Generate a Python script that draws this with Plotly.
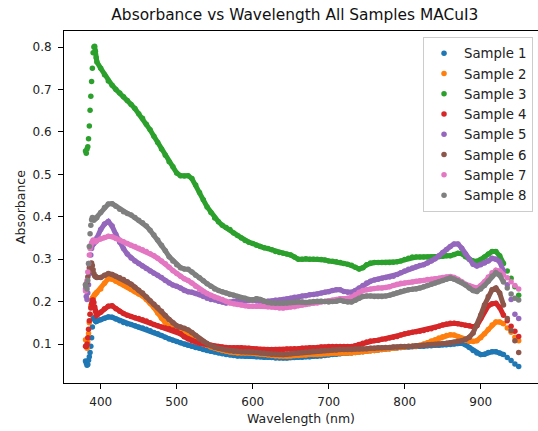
import plotly.graph_objects as go

# Wavelength grid (nm): 1 nm steps at the steep onset, 5 nm steps afterwards
WL = list(range(380, 396)) + list(range(400, 951, 5))

S1 = [0.060, 0.055, 0.050, 0.052, 0.062, 0.070, 0.080, 0.095, 0.115, 0.140, 0.160, 0.162, 0.158, 0.154, 0.153, 0.154,
      0.157, 0.161, 0.164, 0.163, 0.159, 0.155, 0.151, 0.148, 0.146, 0.143,
      0.140, 0.138, 0.135, 0.131, 0.127, 0.124, 0.120, 0.116, 0.112, 0.109,
      0.106, 0.103, 0.100, 0.097, 0.095, 0.092, 0.090, 0.087, 0.085, 0.083,
      0.081, 0.079, 0.077, 0.075, 0.074, 0.073, 0.072, 0.072, 0.071, 0.071,
      0.071, 0.070, 0.070, 0.069, 0.069, 0.068, 0.067, 0.067, 0.067, 0.067,
      0.068, 0.068, 0.069, 0.069, 0.070, 0.070, 0.071, 0.071, 0.072, 0.073,
      0.074, 0.075, 0.076, 0.077, 0.078, 0.078, 0.079, 0.080, 0.081, 0.082,
      0.083, 0.084, 0.085, 0.086, 0.087, 0.088, 0.089, 0.090, 0.091, 0.092,
      0.093, 0.093, 0.094, 0.094, 0.095, 0.095, 0.096, 0.096, 0.097, 0.097,
      0.098, 0.098, 0.099, 0.100, 0.101, 0.102, 0.098, 0.092, 0.085, 0.079,
      0.075, 0.076, 0.080, 0.082, 0.082, 0.079, 0.075, 0.068, 0.061, 0.053,
      0.047]

S2 = [0.110, 0.095, 0.090, 0.105, 0.125, 0.150, 0.170, 0.190, 0.204, 0.208, 0.210, 0.213, 0.216, 0.218, 0.220, 0.222,
      0.230, 0.243, 0.254, 0.253, 0.248, 0.244, 0.240, 0.235, 0.229, 0.223,
      0.218, 0.213, 0.205, 0.196, 0.186, 0.173, 0.161, 0.150, 0.142, 0.138,
      0.135, 0.132, 0.129, 0.124, 0.119, 0.112, 0.106, 0.100, 0.097, 0.093,
      0.090, 0.087, 0.085, 0.083, 0.081, 0.080, 0.079, 0.079, 0.079, 0.079,
      0.078, 0.077, 0.076, 0.075, 0.074, 0.073, 0.072, 0.071, 0.071, 0.071,
      0.072, 0.073, 0.073, 0.074, 0.074, 0.075, 0.075, 0.075, 0.076, 0.077,
      0.077, 0.078, 0.078, 0.079, 0.079, 0.079, 0.079, 0.080, 0.081, 0.082,
      0.083, 0.084, 0.085, 0.086, 0.087, 0.088, 0.089, 0.090, 0.091, 0.092,
      0.093, 0.094, 0.094, 0.095, 0.097, 0.100, 0.103, 0.107, 0.110, 0.114,
      0.117, 0.120, 0.122, 0.121, 0.118, 0.113, 0.109, 0.106, 0.106, 0.108,
      0.115, 0.124, 0.134, 0.145, 0.152, 0.152, 0.148, 0.138, 0.128, 0.116,
      0.108]

S3 = [0.555, 0.550, 0.560, 0.565, 0.584, 0.614, 0.651, 0.684, 0.719, 0.750, 0.787, 0.800, 0.802, 0.790, 0.775, 0.765,
      0.750, 0.735, 0.720, 0.710, 0.700, 0.692, 0.683, 0.674, 0.665, 0.655,
      0.643, 0.632, 0.618, 0.605, 0.590, 0.575, 0.560, 0.545, 0.530, 0.518,
      0.503, 0.497, 0.496, 0.497, 0.490, 0.475, 0.457, 0.440, 0.423, 0.410,
      0.397, 0.388, 0.380, 0.375, 0.370, 0.362, 0.356, 0.350, 0.344, 0.340,
      0.337, 0.333, 0.330, 0.327, 0.325, 0.322, 0.318, 0.316, 0.314, 0.312,
      0.310, 0.305, 0.300, 0.300, 0.301, 0.300, 0.300, 0.300, 0.299, 0.298,
      0.296, 0.295, 0.294, 0.292, 0.290, 0.288, 0.286, 0.281, 0.277, 0.280,
      0.287, 0.291, 0.292, 0.292, 0.292, 0.292, 0.292, 0.293, 0.294, 0.296,
      0.299, 0.302, 0.305, 0.305, 0.305, 0.305, 0.305, 0.305, 0.305, 0.306,
      0.307, 0.308, 0.308, 0.311, 0.314, 0.313, 0.306, 0.300, 0.296, 0.295,
      0.299, 0.305, 0.312, 0.318, 0.318, 0.308, 0.290, 0.272, 0.255, 0.235,
      0.215]

S4 = [0.095, 0.094, 0.100, 0.115, 0.135, 0.155, 0.170, 0.185, 0.195, 0.203, 0.204, 0.198, 0.188, 0.178, 0.171, 0.168,
      0.175, 0.183, 0.189, 0.190, 0.183, 0.177, 0.172, 0.168, 0.165, 0.162,
      0.160, 0.157, 0.154, 0.150, 0.146, 0.143, 0.140, 0.138, 0.136, 0.133,
      0.130, 0.124, 0.117, 0.112, 0.108, 0.105, 0.102, 0.100, 0.098, 0.097,
      0.095, 0.094, 0.093, 0.092, 0.091, 0.091, 0.091, 0.091, 0.090, 0.090,
      0.089, 0.088, 0.087, 0.087, 0.087, 0.087, 0.087, 0.087, 0.087, 0.088,
      0.088, 0.089, 0.089, 0.090, 0.090, 0.091, 0.091, 0.092, 0.093, 0.093,
      0.094, 0.094, 0.094, 0.094, 0.094, 0.094, 0.094, 0.096, 0.099, 0.102,
      0.105, 0.107, 0.108, 0.109, 0.111, 0.112, 0.114, 0.116, 0.118, 0.121,
      0.124, 0.126, 0.128, 0.129, 0.130, 0.132, 0.134, 0.136, 0.139, 0.142,
      0.145, 0.147, 0.149, 0.149, 0.148, 0.146, 0.144, 0.143, 0.141, 0.143,
      0.160, 0.178, 0.190, 0.195, 0.196, 0.186, 0.168, 0.155, 0.142, 0.130,
      0.118]

S5 = [0.230, 0.212, 0.205, 0.220, 0.240, 0.265, 0.290, 0.310, 0.325, 0.332, 0.335, 0.337, 0.340, 0.342, 0.345, 0.350,
      0.370, 0.383, 0.389, 0.378, 0.358, 0.340, 0.325, 0.312, 0.303, 0.296,
      0.290, 0.284, 0.278, 0.272, 0.267, 0.262, 0.257, 0.250, 0.244, 0.239,
      0.236, 0.232, 0.226, 0.223, 0.222, 0.219, 0.216, 0.212, 0.208, 0.205,
      0.204, 0.201, 0.199, 0.197, 0.199, 0.201, 0.202, 0.201, 0.202, 0.203,
      0.204, 0.202, 0.200, 0.200, 0.201, 0.201, 0.203, 0.204, 0.205, 0.206,
      0.208, 0.210, 0.211, 0.213, 0.214, 0.216, 0.217, 0.218, 0.220, 0.222,
      0.223, 0.226, 0.228, 0.228, 0.224, 0.222, 0.222, 0.226, 0.232, 0.238,
      0.244, 0.248, 0.251, 0.253, 0.255, 0.257, 0.258, 0.260, 0.264, 0.268,
      0.272, 0.276, 0.279, 0.282, 0.285, 0.287, 0.291, 0.296, 0.301, 0.308,
      0.316, 0.323, 0.330, 0.336, 0.336, 0.326, 0.312, 0.300, 0.288, 0.284,
      0.287, 0.291, 0.296, 0.302, 0.300, 0.294, 0.272, 0.240, 0.205, 0.170,
      0.160]

S6 = [0.240, 0.236, 0.245, 0.258, 0.270, 0.280, 0.286, 0.290, 0.291, 0.285, 0.275, 0.266, 0.261, 0.259, 0.258, 0.257,
      0.257, 0.262, 0.266, 0.264, 0.260, 0.256, 0.252, 0.247, 0.241, 0.234,
      0.227, 0.220, 0.211, 0.202, 0.194, 0.186, 0.177, 0.167, 0.158, 0.150,
      0.143, 0.140, 0.137, 0.133, 0.127, 0.120, 0.112, 0.106, 0.101, 0.096,
      0.092, 0.090, 0.088, 0.086, 0.084, 0.083, 0.083, 0.082, 0.082, 0.082,
      0.081, 0.080, 0.079, 0.078, 0.077, 0.076, 0.076, 0.075, 0.075, 0.076,
      0.077, 0.078, 0.079, 0.080, 0.081, 0.082, 0.083, 0.083, 0.084, 0.085,
      0.085, 0.086, 0.086, 0.087, 0.087, 0.087, 0.087, 0.088, 0.088, 0.089,
      0.089, 0.090, 0.090, 0.091, 0.091, 0.092, 0.092, 0.093, 0.093, 0.094,
      0.094, 0.095, 0.095, 0.096, 0.096, 0.097, 0.098, 0.099, 0.099, 0.100,
      0.101, 0.102, 0.103, 0.104, 0.106, 0.108, 0.111, 0.116, 0.126, 0.145,
      0.168, 0.192, 0.212, 0.228, 0.232, 0.220, 0.192, 0.160, 0.132, 0.108,
      0.080]

S7 = [0.225, 0.232, 0.250, 0.270, 0.290, 0.310, 0.325, 0.333, 0.338, 0.342, 0.345, 0.344, 0.342, 0.341, 0.342, 0.344,
      0.348, 0.351, 0.354, 0.353, 0.349, 0.345, 0.341, 0.337, 0.333, 0.330,
      0.326, 0.322, 0.318, 0.313, 0.308, 0.302, 0.296, 0.289, 0.281, 0.273,
      0.266, 0.260, 0.254, 0.250, 0.244, 0.236, 0.229, 0.224, 0.219, 0.215,
      0.211, 0.208, 0.205, 0.201, 0.197, 0.195, 0.193, 0.192, 0.190, 0.189,
      0.189, 0.189, 0.190, 0.189, 0.188, 0.187, 0.186, 0.185, 0.185, 0.186,
      0.187, 0.188, 0.190, 0.192, 0.193, 0.195, 0.196, 0.197, 0.199, 0.200,
      0.202, 0.203, 0.205, 0.207, 0.207, 0.208, 0.210, 0.216, 0.222, 0.226,
      0.228, 0.230, 0.231, 0.232, 0.232, 0.233, 0.235, 0.238, 0.241, 0.243,
      0.244, 0.245, 0.246, 0.248, 0.249, 0.250, 0.252, 0.253, 0.254, 0.255,
      0.257, 0.258, 0.259, 0.257, 0.253, 0.247, 0.241, 0.237, 0.233, 0.232,
      0.238, 0.247, 0.258, 0.268, 0.274, 0.272, 0.263, 0.256, 0.247, 0.238,
      0.230]

S8 = [0.240, 0.236, 0.230, 0.250, 0.290, 0.330, 0.360, 0.380, 0.393, 0.398, 0.396, 0.392, 0.394, 0.396, 0.397, 0.398,
      0.410, 0.422, 0.430, 0.431, 0.425, 0.418, 0.412, 0.408, 0.404, 0.398,
      0.392, 0.386, 0.378, 0.368, 0.357, 0.345, 0.333, 0.320, 0.306, 0.296,
      0.287, 0.280, 0.277, 0.276, 0.270, 0.262, 0.256, 0.249, 0.242, 0.236,
      0.230, 0.226, 0.223, 0.220, 0.217, 0.215, 0.212, 0.209, 0.208, 0.205,
      0.204, 0.207, 0.205, 0.201, 0.198, 0.197, 0.196, 0.196, 0.196, 0.197,
      0.198, 0.199, 0.200, 0.199, 0.198, 0.199, 0.200, 0.201, 0.201, 0.200,
      0.199, 0.200, 0.201, 0.203, 0.201, 0.199, 0.199, 0.203, 0.208, 0.212,
      0.213, 0.213, 0.212, 0.212, 0.212, 0.213, 0.215, 0.218, 0.221, 0.224,
      0.226, 0.228, 0.229, 0.230, 0.232, 0.235, 0.238, 0.241, 0.244, 0.247,
      0.250, 0.253, 0.256, 0.253, 0.249, 0.245, 0.239, 0.232, 0.226, 0.224,
      0.230, 0.238, 0.248, 0.260, 0.268, 0.262, 0.246, 0.232, 0.218, 0.208,
      0.204]

NAMES = ["Sample 1", "Sample 2", "Sample 3", "Sample 4",
         "Sample 5", "Sample 6", "Sample 7", "Sample 8"]
SERIES = [S1, S2, S3, S4, S5, S6, S7, S8]
COLORS = ["#1f77b4", "#ff7f0e", "#2ca02c", "#d62728",
          "#9467bd", "#8c564b", "#e377c2", "#7f7f7f"]

for s in SERIES:
    assert len(s) == len(WL), (len(s), len(WL))

FONT = "DejaVu Sans"
# dense part of each spectrum (drawn as a band joining the sampled points)
i0 = WL.index(392)
i1 = WL.index(930) + 1

fig = go.Figure()
for name, ys, col in zip(NAMES, SERIES, COLORS):
    fig.add_trace(go.Scatter(
        x=WL[i0:i1], y=ys[i0:i1], mode="lines", name=name,
        line=dict(color=col, width=5), showlegend=False, hoverinfo="skip",
    ))
    fig.add_trace(go.Scatter(
        x=WL, y=ys, mode="markers", name=name,
        marker=dict(color=col, size=5.5, line=dict(width=0)),
    ))

fig.update_layout(
    width=538, height=431,
    margin=dict(l=64, r=0, t=31, b=48, pad=0),
    paper_bgcolor="white", plot_bgcolor="white",
    font=dict(family=FONT, size=12, color="#222"),
    title=dict(text="Absorbance vs Wavelength All Samples MACuI3",
               x=0.487, xref="paper", xanchor="center",
               y=1 - 15 / 431, yref="container", yanchor="middle",
               font=dict(family=FONT, size=15.4, color="#111")),
    showlegend=True,
    legend=dict(x=0.9895, xanchor="right", y=0.983, yanchor="top",
                bgcolor="rgba(255,255,255,0.8)", bordercolor="#cccccc",
                borderwidth=1, font=dict(family=FONT, size=13.3, color="#222"),
                itemsizing="trace"),
)

fig.update_xaxes(range=[351.7, 975.4], tickvals=[400, 500, 600, 700, 800, 900],
                 showgrid=False, zeroline=False, showline=True, mirror=True,
                 linecolor="black", linewidth=1, ticks="outside", ticklen=5,
                 tickwidth=1, tickcolor="black", ticklabelstandoff=3,
                 tickfont=dict(family=FONT, size=12, color="#222"))
fig.update_yaxes(range=[0.0081, 0.838], tickvals=[0.1, 0.2, 0.3, 0.4, 0.5, 0.6, 0.7, 0.8],
                 ticktext=["0.1", "0.2", "0.3", "0.4", "0.5", "0.6", "0.7", "0.8"],
                 showgrid=False, zeroline=False, showline=True, mirror=False,
                 linecolor="black", linewidth=1, ticks="outside", ticklen=5,
                 tickwidth=1, tickcolor="black", ticklabelstandoff=4,
                 tickfont=dict(family=FONT, size=12, color="#222"))

fig.add_annotation(text="Wavelength (nm)", xref="paper", yref="paper",
                   x=0.5, y=(383 - 418) / 352, xanchor="center", yanchor="middle",
                   showarrow=False, font=dict(family=FONT, size=12.5, color="#222"))
fig.add_annotation(text="Absorbance", xref="paper", yref="paper",
                   x=(20 - 64) / 474, y=0.5, xanchor="center", yanchor="middle",
                   textangle=-90, showarrow=False,
                   font=dict(family=FONT, size=12.5, color="#222"))

fig.write_html("out.html")
